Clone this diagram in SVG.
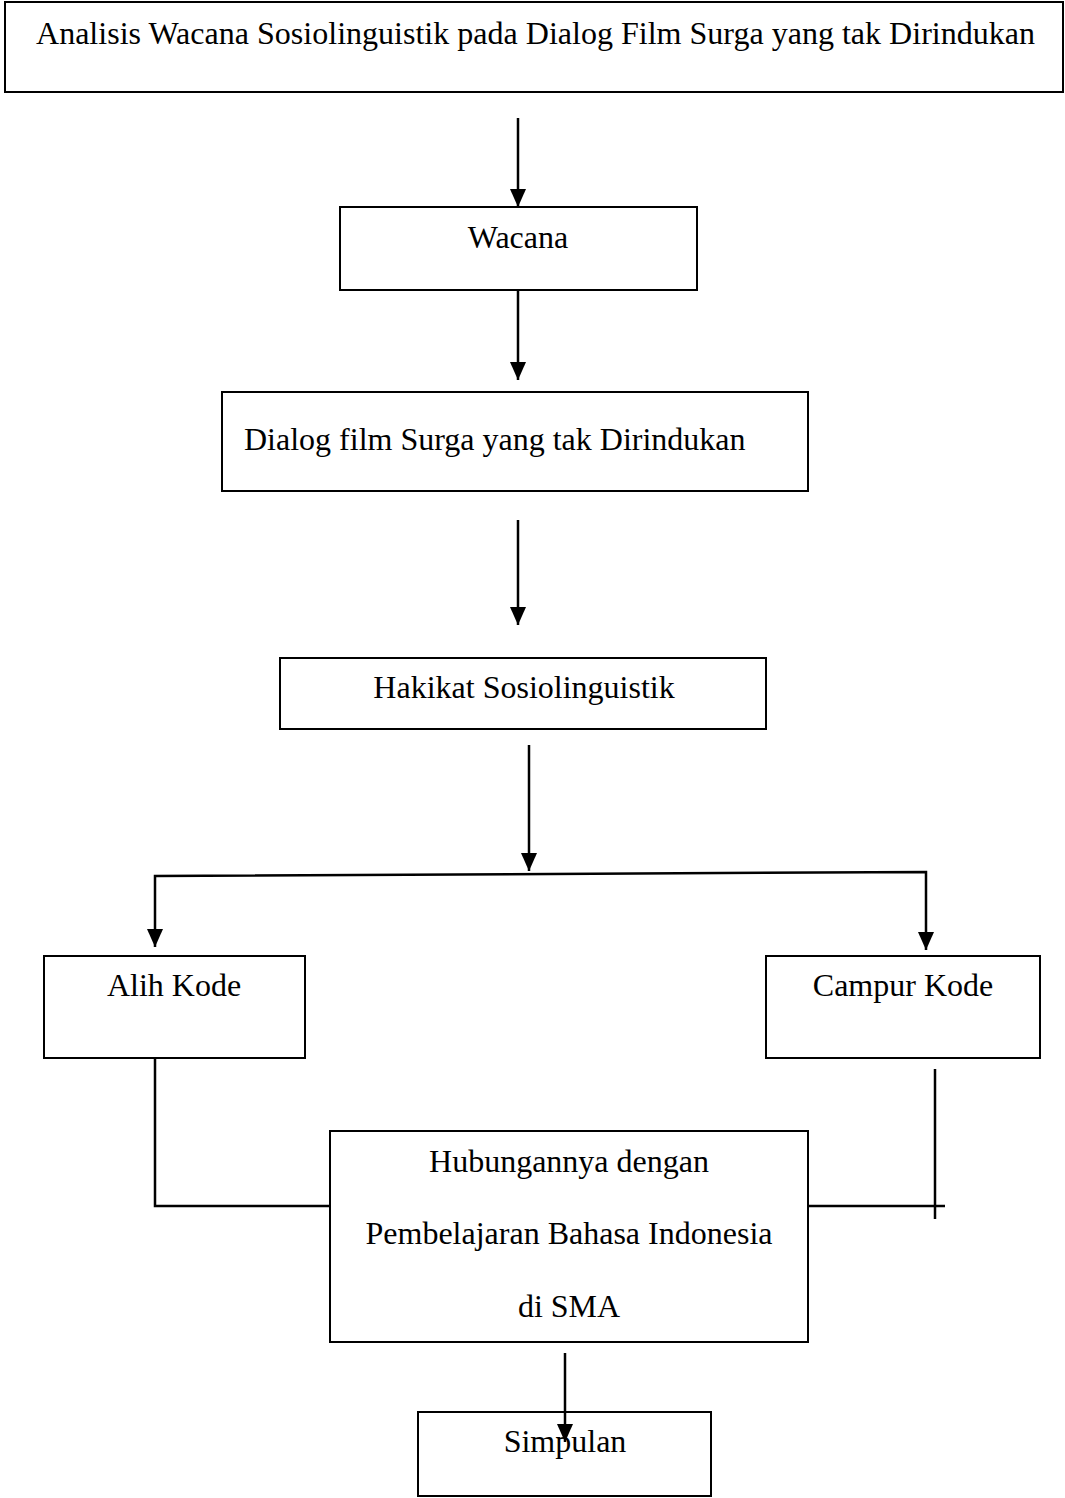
<svg xmlns="http://www.w3.org/2000/svg" width="1065" height="1498" viewBox="0 0 1065 1498">
<style>
.box{fill:#fff;stroke:#000;stroke-width:2}
.t{font-family:"Liberation Serif","Times New Roman",serif;font-size:32px;fill:#000}
.c{text-anchor:middle}
.ln{fill:none;stroke:#000;stroke-width:2.5}
</style>
<defs>
<marker id="ah" markerWidth="18" markerHeight="16" refX="18" refY="8" orient="auto-start-reverse" markerUnits="userSpaceOnUse" viewBox="0 0 18 16">
<path d="M0,0 L18,8 L0,16 Z" fill="#000"/>
</marker>
</defs>
<g id="connectors">
<line class="ln" x1="518" y1="118" x2="518" y2="207" marker-end="url(#ah)"/>
<line class="ln" x1="518" y1="290" x2="518" y2="380" marker-end="url(#ah)"/>
<line class="ln" x1="518" y1="520" x2="518" y2="625" marker-end="url(#ah)"/>
<line class="ln" x1="529" y1="745" x2="529" y2="871" marker-end="url(#ah)"/>
<polyline class="ln" points="155,947 155,876 926,872 926,950" marker-start="url(#ah)" marker-end="url(#ah)"/>
<polyline class="ln" points="155,1058 155,1206 330,1206"/>
<line class="ln" x1="808" y1="1206" x2="945" y2="1206"/>
<line class="ln" x1="935" y1="1069" x2="935" y2="1219"/>
</g>
<g id="n1"><rect class="box" x="5" y="2" width="1058" height="90"/><text class="t" x="36" y="44" textLength="999" lengthAdjust="spacingAndGlyphs">Analisis Wacana Sosiolinguistik pada Dialog Film Surga yang tak Dirindukan</text></g>
<g id="n2"><rect class="box" x="340" y="207" width="357" height="83"/><text class="t c" x="518" y="248">Wacana</text></g>
<g id="n3"><rect class="box" x="222" y="392" width="586" height="99"/><text class="t" x="244" y="450">Dialog film Surga yang tak Dirindukan</text></g>
<g id="n4"><rect class="box" x="280" y="658" width="486" height="71"/><text class="t c" x="524" y="698">Hakikat Sosiolinguistik</text></g>
<g id="n5"><rect class="box" x="44" y="956" width="261" height="102"/><text class="t c" x="174" y="996">Alih Kode</text></g>
<g id="n6"><rect class="box" x="766" y="956" width="274" height="102"/><text class="t c" x="903" y="996">Campur Kode</text></g>
<g id="n7"><rect class="box" x="330" y="1131" width="478" height="211"/>
<text class="t c" x="569" y="1172">Hubungannya dengan</text>
<text class="t c" x="569" y="1244">Pembelajaran Bahasa Indonesia</text>
<text class="t c" x="569" y="1317">di SMA</text></g>
<g id="n8"><rect class="box" x="418" y="1412" width="293" height="84"/><text class="t c" x="565" y="1452">Simpulan</text></g>
<line class="ln" x1="565" y1="1353" x2="565" y2="1442" marker-end="url(#ah)"/>
</svg>
